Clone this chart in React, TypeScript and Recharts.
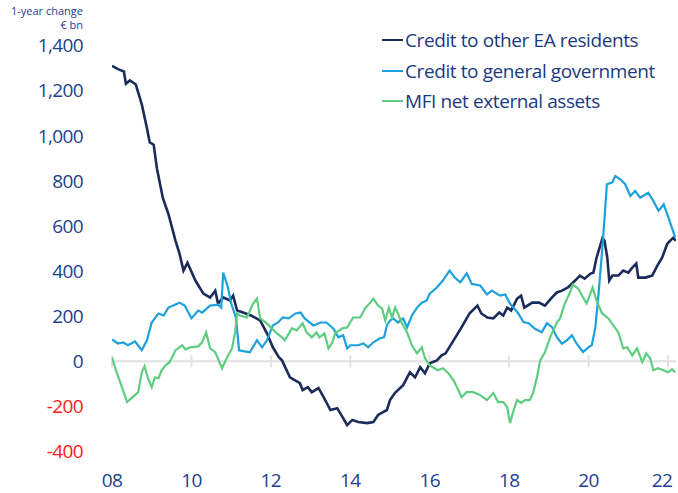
import { LineChart, Line, XAxis, YAxis, ReferenceLine } from "recharts";

// years (fractional) and values, € bn, 1-year change
const otherYears = [
  2008.0, 2008.15, 2008.3, 2008.35, 2008.45, 2008.6, 2008.75, 2008.88, 2008.95, 2009.05,
  2009.13, 2009.28, 2009.42, 2009.6, 2009.7, 2009.8, 2009.9, 2010.1, 2010.3, 2010.47,
  2010.6, 2010.67, 2010.8, 2010.97, 2011.05, 2011.15, 2011.3, 2011.5, 2011.6, 2011.73,
  2011.9, 2012.05, 2012.2, 2012.28, 2012.48, 2012.73, 2012.8, 2012.93, 2013.03, 2013.2,
  2013.3, 2013.5, 2013.67, 2013.82, 2013.92, 2014.05, 2014.2, 2014.42, 2014.58, 2014.7,
  2014.92, 2015.0, 2015.12, 2015.33, 2015.5, 2015.63, 2015.76, 2015.88, 2016.0, 2016.18,
  2016.3, 2016.4, 2016.6, 2016.8, 2017.0, 2017.2, 2017.3, 2017.45, 2017.6, 2017.75,
  2017.85, 2017.95, 2018.05, 2018.2, 2018.3, 2018.38, 2018.58, 2018.75, 2018.9, 2019.08,
  2019.2, 2019.33, 2019.48, 2019.66, 2019.78, 2019.9, 2020.05, 2020.12, 2020.2, 2020.35,
  2020.4, 2020.47, 2020.52, 2020.6, 2020.75, 2020.87, 2021.0, 2021.1, 2021.2, 2021.25,
  2021.43, 2021.6, 2021.73, 2021.85, 2021.98, 2022.05, 2022.13, 2022.2,
];
const otherValues = [
  1310, 1295, 1285, 1230, 1245, 1227, 1139, 1033, 970, 960,
  856, 724, 653, 534, 477, 402, 437, 358, 300, 283,
  313, 256, 283, 270, 291, 225, 216, 203, 194, 181,
  124, 62, 18, 4, -71, -97, -128, -115, -137, -119,
  -150, -216, -208, -252, -283, -260, -269, -274, -269, -238,
  -216, -172, -141, -106, -49, -71, -26, -53, -9, 4,
  26, 35, 93, 150, 212, 247, 212, 194, 190, 216,
  203, 238, 225, 278, 291, 238, 260, 260, 247, 283,
  305, 313, 327, 358, 380, 366, 389, 393, 459, 547,
  534, 459, 358, 380, 380, 402, 393, 415, 433, 371,
  371, 380, 424, 459, 521, 534, 547, 534,
];

const govYears = [
  2008.0, 2008.15, 2008.28, 2008.4, 2008.58, 2008.75, 2008.88, 2009.0, 2009.17, 2009.3,
  2009.42, 2009.7, 2009.83, 2010.0, 2010.17, 2010.27, 2010.47, 2010.67, 2010.75, 2010.8,
  2010.92, 2011.0, 2011.12, 2011.2, 2011.47, 2011.65, 2011.78, 2011.9, 2012.05, 2012.18,
  2012.3, 2012.45, 2012.62, 2012.75, 2012.85, 2013.07, 2013.25, 2013.4, 2013.57, 2013.7,
  2013.82, 2013.92, 2014.0, 2014.2, 2014.33, 2014.45, 2014.58, 2014.75, 2014.85, 2014.92,
  2015.0, 2015.08, 2015.2, 2015.33, 2015.43, 2015.55, 2015.68, 2015.8, 2015.92, 2016.0,
  2016.18, 2016.33, 2016.5, 2016.63, 2016.77, 2016.93, 2017.06, 2017.27, 2017.44, 2017.56,
  2017.77, 2017.9, 2018.02, 2018.23, 2018.36, 2018.49, 2018.65, 2018.82, 2018.95, 2019.08,
  2019.2, 2019.33, 2019.45, 2019.58, 2019.7, 2019.86, 2020.0, 2020.08, 2020.17, 2020.25,
  2020.36, 2020.46, 2020.59, 2020.67, 2020.8, 2020.92, 2021.05, 2021.17, 2021.3, 2021.5,
  2021.63, 2021.76, 2021.89, 2022.01, 2022.18,
];
const govValues = [
  97, 79, 84, 71, 88, 49, 93, 172, 212, 203,
  238, 260, 247, 190, 225, 216, 247, 251, 238, 393,
  327, 256, 194, 49, 40, 93, 62, 93, 159, 172,
  194, 190, 212, 216, 190, 159, 172, 172, 146, 106,
  115, 57, 71, 71, 79, 62, 84, 102, 106, 159,
  181, 190, 172, 190, 150, 203, 238, 260, 269, 300,
  327, 358, 402, 371, 350, 390, 343, 336, 296, 313,
  291, 296, 256, 212, 174, 169, 144, 129, 169, 151,
  107, 78, 93, 115, 78, 41, 63, 71, 151, 299,
  534, 785, 792, 821, 807, 785, 733, 755, 725, 747,
  711, 667, 696, 637, 549,
];

const mfiYears = [
  2008.0, 2008.1, 2008.25, 2008.38, 2008.52, 2008.66, 2008.75, 2008.82, 2008.9, 2009.0,
  2009.08, 2009.17, 2009.25, 2009.35, 2009.45, 2009.6, 2009.77, 2009.85, 2009.97, 2010.17,
  2010.27, 2010.37, 2010.47, 2010.6, 2010.77, 2010.9, 2011.02, 2011.1, 2011.15, 2011.22,
  2011.4, 2011.55, 2011.65, 2011.73, 2011.9, 2012.15, 2012.28, 2012.35, 2012.53, 2012.65,
  2012.8, 2012.9, 2013.03, 2013.15, 2013.22, 2013.35, 2013.45, 2013.55, 2013.62, 2013.8,
  2013.92, 2014.07, 2014.25, 2014.37, 2014.5, 2014.58, 2014.7, 2014.8, 2014.88, 2014.97,
  2015.05, 2015.13, 2015.2, 2015.3, 2015.43, 2015.55, 2015.68, 2015.8, 2015.88, 2016.0,
  2016.2, 2016.33, 2016.47, 2016.6, 2016.72, 2016.8, 2016.93, 2017.1, 2017.27, 2017.44,
  2017.6, 2017.72, 2017.85, 2017.95, 2018.02, 2018.1, 2018.2, 2018.3, 2018.4, 2018.52,
  2018.6, 2018.7, 2018.78, 2018.9, 2019.03, 2019.2, 2019.28, 2019.4, 2019.53, 2019.6,
  2019.74, 2019.86, 2019.95, 2020.1, 2020.2, 2020.34, 2020.5, 2020.62, 2020.75, 2020.87,
  2020.97, 2021.1, 2021.22, 2021.35, 2021.45, 2021.55, 2021.63, 2021.75, 2021.88, 2022.0,
  2022.1, 2022.18,
];
const mfiValues = [
  18, -40, -115, -181, -159, -137, -49, -22, -71, -115,
  -71, -75, -40, -18, -4, 49, 71, 53, 62, 66,
  84, 128, 57, 40, -31, 18, 57, 128, 212, 203,
  194, 256, 278, 190, 168, 124, 106, 93, 146, 137,
  168, 128, 106, 128, 106, 124, 57, 84, 124, 146,
  150, 194, 194, 234, 260, 278, 247, 234, 181, 238,
  194, 238, 212, 168, 128, 71, 35, 62, 13, -18,
  -40, -31, -53, -84, -128, -159, -137, -137, -150, -172,
  -141, -181, -181, -203, -274, -225, -172, -185, -172, -172,
  -141, -71, 4, 40, 106, 172, 190, 256, 305, 340,
  322, 283, 256, 327, 269, 212, 190, 159, 128, 57,
  62, 26, 57, -4, 35, 13, -40, -31, -40, -49,
  -35, -49,
];

const seriesNames = [
  "Credit to other EA residents",
  "Credit to general government",
  "MFI net external assets",
];
const seriesColors = ["#1b2b5a", "#1ea0dc", "#5fcd80"];

const xTicks = [2008, 2010, 2012, 2014, 2016, 2018, 2020, 2022];
const yTicks = [-400, -200, 0, 200, 400, 600, 800, 1000, 1200, 1400];
const zeroMarks = [2008, 2010, 2012, 2014, 2016, 2018, 2020, 2022];

const toPoints = (xs: number[], ys: number[]) => xs.map((x, i) => ({ x, y: ys[i] }));

const FONT = "'Open Sans', sans-serif";
const LABEL_BLUE = "#1b4190";

const YTick = (props: any) => {
  const { x, y, payload } = props;
  const v = payload.value as number;
  return (
    <text
      x={x}
      y={y}
      dy="0.36em"
      textAnchor="end"
      fontFamily={FONT}
      fontSize={19}
      letterSpacing={-0.6}
      fill={v < 0 ? "#ff1a1a" : LABEL_BLUE}
    >
      {v.toLocaleString("en-US")}
    </text>
  );
};

const XTick = (props: any) => {
  const { x, y, payload } = props;
  return (
    <text
      x={x}
      y={y}
      dy="0.71em"
      textAnchor="middle"
      fontFamily={FONT}
      fontSize={19}
      letterSpacing={-0.6}
      fill={LABEL_BLUE}
    >
      {String(payload.value % 100).padStart(2, "0")}
    </text>
  );
};

export default function App() {
  const data = [
    toPoints(otherYears, otherValues),
    toPoints(govYears, govValues),
    toPoints(mfiYears, mfiValues),
  ];
  return (
    <div style={{ position: "absolute", left: 0, top: 0, width: 678, height: 493, background: "#fff" }}>
      <LineChart width={678} height={493} margin={{ top: 45.5, right: 2, bottom: 0, left: 0 }}>
        <XAxis
          type="number"
          dataKey="x"
          domain={[2008, 2022.2]}
          ticks={xTicks}
          axisLine={false}
          tickLine={false}
          tickSize={0}
          tickMargin={22}
          height={41.5}
          tick={<XTick />}
          allowDataOverflow
        />
        <YAxis
          type="number"
          domain={[-400, 1400]}
          ticks={yTicks}
          axisLine={false}
          tickLine={false}
          tickSize={0}
          tickMargin={29}
          width={112}
          tick={<YTick />}
        />
        <ReferenceLine y={0} stroke="#e0e0e0" strokeWidth={2} />
        {zeroMarks.map((yr) => (
          <ReferenceLine
            key={yr}
            segment={[
              { x: yr, y: -26 },
              { x: yr, y: 26 },
            ]}
            stroke="#e0e0e0"
            strokeWidth={2}
          />
        ))}
        {data.map((pts, i) => (
          <Line
            key={seriesNames[i]}
            data={pts}
            dataKey="y"
            name={seriesNames[i]}
            type="linear"
            stroke={seriesColors[i]}
            strokeWidth={i === 0 ? 2.6 : 2.2}
            dot={false}
            isAnimationActive={false}
          />
        ))}
      </LineChart>

      <div
        style={{
          position: "absolute",
          left: 0,
          top: 4,
          width: 83,
          textAlign: "right",
          fontFamily: FONT,
          fontSize: 11,
          lineHeight: "14px",
          color: LABEL_BLUE,
        }}
      >
        <div style={{ whiteSpace: "nowrap" }}>1-year change</div>
        <div>€ bn</div>
      </div>

      <div style={{ position: "absolute", left: 382, top: 25, fontFamily: FONT }}>
        {seriesNames.map((name, i) => (
          <div key={name} style={{ display: "flex", alignItems: "center", height: 30.5 }}>
            <div style={{ width: 21, height: 2, background: seriesColors[i], marginRight: 2 }} />
            <span style={{ fontSize: 19, letterSpacing: -0.4, color: "#1b3a80", whiteSpace: "nowrap" }}>
              {name}
            </span>
          </div>
        ))}
      </div>
    </div>
  );
}
